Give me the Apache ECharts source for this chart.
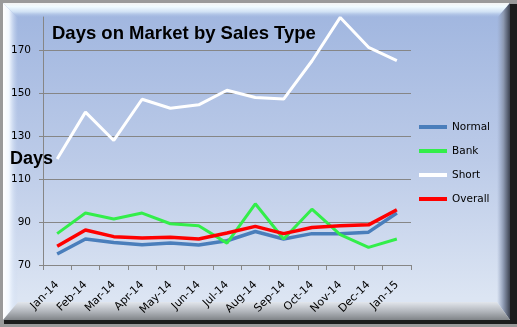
<!DOCTYPE html>
<html>
<head>
<meta charset="utf-8">
<script src="https://cdn.jsdelivr.net/npm/echarts@6/dist/echarts.min.js"></script>
<style>
html,body{margin:0;padding:0;background:#fff;}
#chart{width:517px;height:327px;}
</style>
</head>
<body>
<div id="chart"></div>
<script>
var categories = ['Jan-14','Feb-14','Mar-14','Apr-14','May-14','Jun-14','Jul-14','Aug-14','Sep-14','Oct-14','Nov-14','Dec-14','Jan-15'];
var normal  = [75.1, 82.1, 80.5, 79.4, 80.2, 79.3, 81.3, 85.6, 82.1, 84.6, 84.6, 85.3, 94.2];
var bank    = [84.6, 94.2, 91.4, 94.2, 89.2, 88.3, 80.2, 98.5, 82.1, 96.0, 84.1, 78.2, 82.1];
var shortS  = [119.4, 141.2, 128.0, 147.2, 143.0, 144.6, 151.4, 148.0, 147.3, 165.0, 185.3, 171.4, 165.2];
var overall = [78.7, 86.3, 83.2, 82.6, 82.9, 82.1, 84.9, 88.0, 84.6, 87.5, 88.3, 88.7, 95.7];
var seriesNames = ['Normal','Bank','Short','Overall'];
var titleText = 'Days on Market by Sales Type';
var yTitle = 'Days';

var chart = echarts.init(document.getElementById('chart'), null, {renderer:'canvas'});
var font = 'DejaVu Sans';
function lg(x,y,x2,y2,stops){return new echarts.graphic.LinearGradient(x,y,x2,y2,stops.map(function(s){return {offset:s[0],color:s[1]};}));}

var option = {
  animation:false,
  backgroundColor:'#9a9a9a',
  graphic:[
    {type:'rect', z:-10, shape:{x:4,y:4,width:513,height:320}, style:{fill:'#1c1c1c'}},
    {type:'rect', z:-9, shape:{x:3,y:3,width:507,height:317}, style:{fill:lg(0,0,0,1,[[0,'#9fb5df'],[0.5,'#bccbe8'],[0.93,'#dce5f3'],[1,'#dce5f3']])}},
    {type:'polygon', z:-8, shape:{points:[[3,3],[510,3],[497,18],[18,18]]}, style:{fill:lg(0,0,0,1,[[0,'#f4f4f4'],[0.25,'#f0fbff'],[0.6,'#cfe0f4'],[1,'rgba(160,182,224,0)']])}},
    {type:'polygon', z:-8, shape:{points:[[3,3],[18,18],[18,302],[3,320]]}, style:{fill:lg(0,0,1,0,[[0,'#ffffff'],[0.4,'#f2f8ff'],[1,'rgba(200,215,240,0)']])}},
    {type:'polygon', z:-8, shape:{points:[[510,3],[510,320],[497,302],[497,18]]}, style:{fill:lg(0,0,1,0,[[0,'rgba(150,165,195,0)'],[0.5,'#8c98b0'],[1,'#3c4250']])}},
    {type:'polygon', z:-8, shape:{points:[[18,302],[497,302],[510,320],[3,320]]}, style:{fill:lg(0,0,0,1,[[0,'#e2e6ec'],[0.5,'#b4b8be'],[1,'#808488']])}},
    {type:'text', z:5, style:{text:yTitle, x:10, y:159, textVerticalAlign:'middle', font:'bold 18px "Liberation Sans", Arial', fill:'#000'}}
  ],
  title:{
    text:titleText, left:52, top:24, padding:0,
    textStyle:{fontFamily:'Liberation Sans', fontWeight:'bold', fontSize:18.5, color:'#000'}
  },
  legend:{
    orient:'vertical', left:419, top:120, padding:0, itemGap:10, itemWidth:28, itemHeight:4,
    icon:'rect',
    data:seriesNames,
    textStyle:{fontFamily:font, fontSize:10.5, color:'#000', lineHeight:14, height:14}
  },
  grid:{left:43, right:106, top:17, bottom:62},
  xAxis:{
    type:'category', data:categories, boundaryGap:true,
    axisLine:{lineStyle:{color:'#868686', width:1}},
    axisTick:{show:true, length:5, alignWithLabel:false, lineStyle:{color:'#868686'}},
    axisLabel:{rotate:45, margin:18, interval:0, fontFamily:font, fontSize:11, color:'#000'},
    splitLine:{show:false}
  },
  yAxis:{
    type:'value', min:70, max:185.5, interval:20,
    axisLine:{show:true, lineStyle:{color:'#868686', width:1}},
    axisTick:{show:true, length:4, lineStyle:{color:'#868686'}},
    axisLabel:{margin:12, showMaxLabel:false, fontFamily:font, fontSize:10.5, color:'#000'},
    splitLine:{show:true, showMaxLine:false, lineStyle:{color:'#868686', width:1}}
  },
  series:[
    {name:seriesNames[0], type:'line', data:normal, symbol:'none', lineStyle:{width:3.5, color:'#4a7ebb'}, itemStyle:{color:'#4a7ebb'}},
    {name:seriesNames[1], type:'line', data:bank, symbol:'none', lineStyle:{width:3, color:'#33ee4a'}, itemStyle:{color:'#33ee4a'}},
    {name:seriesNames[2], type:'line', data:shortS, symbol:'none', lineStyle:{width:3, color:'#ffffff'}, itemStyle:{color:'#ffffff'}},
    {name:seriesNames[3], type:'line', data:overall, symbol:'none', lineStyle:{width:3.5, color:'#ff0000'}, itemStyle:{color:'#ff0000'}}
  ]
};
chart.setOption(option);
</script>
</body>
</html>
